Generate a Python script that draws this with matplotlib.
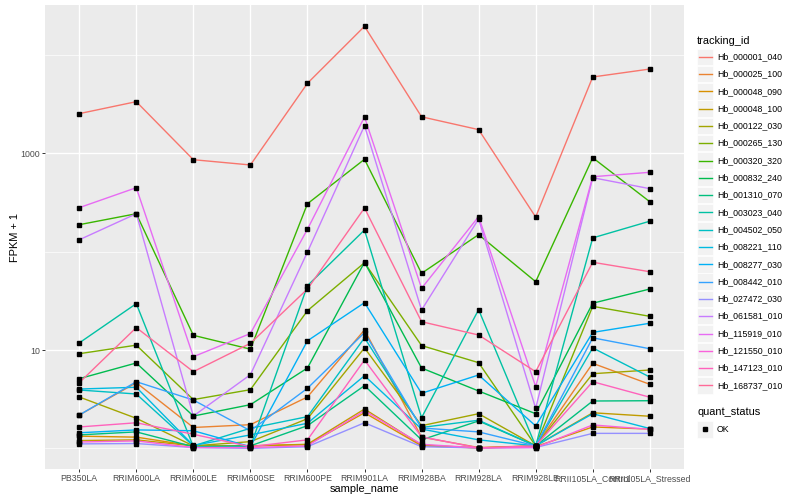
import math
import numpy as np
import matplotlib
matplotlib.use("Agg")
import matplotlib.pyplot as plt
from matplotlib.lines import Line2D
from matplotlib.patches import Rectangle

plt.rcParams['font.family'] = ['Liberation Sans', 'DejaVu Sans']

samples = ["PB350LA", "RRIM600LA", "RRIM600LE", "RRIM600SE", "RRIM600PE",
           "RRIM901LA", "RRIM928BA", "RRIM928LA", "RRIM928LE",
           "RRII105LA_Control", "RRII105LA_Stressed"]

tracking_ids = ["Hb_000001_040", "Hb_000025_100", "Hb_000048_090", "Hb_000048_100",
                "Hb_000122_030", "Hb_000265_130", "Hb_000320_320", "Hb_000832_240",
                "Hb_001310_070", "Hb_003023_040", "Hb_004502_050", "Hb_008221_110",
                "Hb_008277_030", "Hb_008442_010", "Hb_027472_030", "Hb_061581_010",
                "Hb_115919_010", "Hb_121550_010", "Hb_147123_010", "Hb_168737_010"]

# FPKM per gene, one value per sample
hb_000001_040 = [2530, 3350, 860, 760, 5150, 19540, 2350, 1740, 224, 5970, 7190]
hb_000025_100 = [1.18, 3.65, 0.63, 0.74, 2.33, 15.0, 0.30, 0.02, 0.06, 6.32, 3.48]
hb_000048_090 = [0.33, 0.30, 0.06, 0.06, 0.09, 1.30, 0.06, 0.01, 0.04, 0.65, 0.57]
hb_000048_100 = [0.20, 0.22, 0.06, 0.06, 0.10, 1.51, 0.08, 0.01, 0.06, 1.30, 1.12]
hb_000122_030 = [2.33, 1.02, 0.06, 0.17, 1.00, 9.5, 0.70, 1.25, 0.06, 4.74, 5.26]
hb_000265_130 = [8.17, 10.2, 2.13, 2.95, 24.1, 76.2, 10.1, 6.43, 0.06, 26.8, 21.0]
hb_000320_320 = [187, 242, 13.1, 9.2, 306, 868, 59.2, 148, 48.5, 901, 321]
hb_000832_240 = [4.11, 6.38, 1.13, 1.78, 5.56, 77.0, 5.56, 2.83, 1.25, 28.9, 40.7]
hb_001310_070 = [0.37, 0.47, 0.04, 0.06, 0.70, 3.34, 0.22, 0.90, 0.06, 2.03, 2.05]
hb_003023_040 = [10.8, 28.6, 0.04, 0.04, 44.1, 165, 1.05, 24.7, 0.06, 137, 203]
hb_004502_050 = [2.92, 2.57, 0.06, 0.60, 1.10, 12.3, 0.63, 0.93, 0.06, 9.5, 4.31]
hb_008221_110 = [3.01, 3.18, 0.07, 0.37, 0.80, 4.48, 0.57, 0.22, 0.06, 1.25, 0.59]
hb_008277_030 = [0.44, 0.54, 0.51, 0.04, 11.4, 29.3, 2.63, 4.57, 0.69, 14.1, 17.7]
hb_008442_010 = [1.18, 3.76, 2.10, 0.51, 3.08, 14.0, 0.61, 0.47, 0.06, 12.3, 9.3]
hb_027472_030 = [0.11, 0.12, 0.02, 0.0, 0.04, 0.82, 0.04, 0.01, 0.02, 0.42, 0.42]
hb_061581_010 = [131, 242, 1.13, 4.61, 98.1, 1909, 24.5, 214, 1.55, 564, 436]
hb_115919_010 = [279, 446, 7.55, 13.7, 168, 2339, 41.4, 226, 3.24, 577, 640]
hb_121550_010 = [0.16, 0.19, 0.02, 0.02, 0.06, 1.41, 0.10, 0.01, 0.02, 0.73, 0.56]
hb_147123_010 = [0.65, 0.82, 0.39, 0.04, 0.22, 6.91, 0.31, 0.01, 0.06, 3.76, 2.31]
hb_168737_010 = [3.65, 15.9, 5.02, 10.7, 40.7, 277, 18.4, 13.2, 5.02, 77.0, 61.5]

fpkm = [hb_000001_040, hb_000025_100, hb_000048_090, hb_000048_100, hb_000122_030,
        hb_000265_130, hb_000320_320, hb_000832_240, hb_001310_070, hb_003023_040,
        hb_004502_050, hb_008221_110, hb_008277_030, hb_008442_010, hb_027472_030,
        hb_061581_010, hb_115919_010, hb_121550_010, hb_147123_010, hb_168737_010]


def hcl_hex(h, c=100, l=65):
    # polar Luv -> sRGB, like R's hcl()
    Xn, Yn, Zn = 95.047, 100.0, 108.883
    un = 4 * Xn / (Xn + 15 * Yn + 3 * Zn)
    vn = 9 * Yn / (Xn + 15 * Yn + 3 * Zn)
    u = c * math.cos(math.radians(h))
    v = c * math.sin(math.radians(h))
    Y = Yn * ((l + 16) / 116) ** 3
    up = u / (13 * l) + un
    vp = v / (13 * l) + vn
    X = 9 * Y * up / (4 * vp)
    Z = -X / 3 - 5 * Y + 3 * Y / vp
    rgb = [(3.240479 * X - 1.537150 * Y - 0.498535 * Z) / 100,
           (-0.969256 * X + 1.875992 * Y + 0.041556 * Z) / 100,
           (0.055648 * X - 0.204043 * Y + 1.057311 * Z) / 100]
    out = []
    for ch in rgb:
        ch = 12.92 * ch if ch <= 0.0031308 else 1.055 * ch ** (1 / 2.4) - 0.055
        out.append(min(max(ch, 0), 1))
    return tuple(out)


n = len(tracking_ids)
colors = [hcl_hex(15 + 360 / n * i) for i in range(n)]

fig = plt.figure(figsize=(8, 5), dpi=100)
ax = fig.add_axes([45 / 800, 31 / 500, 639 / 800, 464 / 500])
ax.set_facecolor('#EBEBEB')

x = np.arange(len(samples))

# grid
for gx in x:
    ax.axvline(gx, color='white', lw=1.0, zorder=0)
for gy in [10, 1000]:
    ax.axhline(gy, color='white', lw=1.0, zorder=0)
for gy in [1, 100, 10000]:
    ax.axhline(gy, color='white', lw=0.5, zorder=0)

for i, vals in enumerate(fpkm):
    ax.plot(x, np.array(vals) + 1, color=colors[i], lw=1.0, zorder=2)
for vals in fpkm:
    ax.plot(x, np.array(vals) + 1, 's', color='black', ms=2.4, zorder=3)

ax.set_yscale('log')
ax.set_ylim(10 ** -0.21, 10 ** 4.508)
ax.set_xlim(-0.6, len(samples) - 0.4)
ax.set_yticks([10, 1000])
ax.set_yticklabels(['10', '1000'])
ax.yaxis.set_minor_locator(matplotlib.ticker.NullLocator())
ax.set_xticks(x)
ax.set_xticklabels(samples)
ax.tick_params(length=2.0, width=0.7, color='#333333', labelsize=6.3,
               labelcolor='#4D4D4D', pad=1.6)
for s in ax.spines.values():
    s.set_visible(False)

fig.text(364.5 / 800, 1 - 488.5 / 500, 'sample_name', ha='center', va='center', fontsize=7.9)
fig.text(15 / 800, 1 - 237 / 500, 'FPKM + 1', ha='center', va='center', rotation=90, fontsize=7.9)

# legend: tracking_id
W, H = 800.0, 500.0
fig.text(697 / W, 1 - 40.5 / H, 'tracking_id', ha='left', va='center', fontsize=7.9)
step = 17.3
for i, name in enumerate(tracking_ids):
    yc = 56.7 + i * step
    fig.patches.append(Rectangle((697 / W, 1 - (yc + 8.2) / H), 16.4 / W, 16.4 / H,
                                 transform=fig.transFigure, facecolor='#F2F2F2',
                                 edgecolor='white', lw=0.5))
    fig.lines.append(Line2D([698.5 / W, 711.8 / W], [1 - yc / H, 1 - yc / H],
                            transform=fig.transFigure, color=colors[i], lw=1.0))
    fig.text(717 / W, 1 - yc / H, name, ha='left', va='center', fontsize=6.3)

# legend: quant_status
fig.text(697 / W, 1 - 412.3 / H, 'quant_status', ha='left', va='center', fontsize=7.9)
yc = 429.3
fig.patches.append(Rectangle((697 / W, 1 - (yc + 8.2) / H), 16.4 / W, 16.4 / H,
                             transform=fig.transFigure, facecolor='#F2F2F2',
                             edgecolor='white', lw=0.5))
fig.lines.append(Line2D([705.2 / W], [1 - yc / H], transform=fig.transFigure,
                        marker='s', color='black', ms=2.4, lw=0))
fig.text(717 / W, 1 - yc / H, 'OK', ha='left', va='center', fontsize=6.3)

fig.savefig('out.png', dpi=100)
